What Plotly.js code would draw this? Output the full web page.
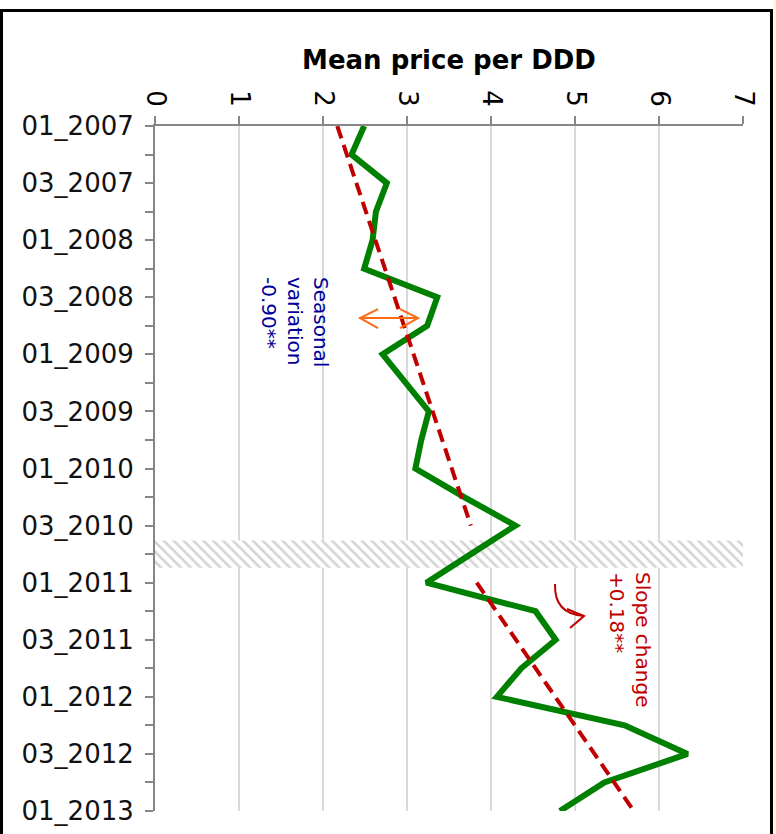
<!DOCTYPE html>
<html>
<head>
<meta charset="utf-8">
<script src="https://cdn.plot.ly/plotly-3.0.1.min.js"></script>
<style>html,body{margin:0;padding:0;background:#fff;}#chart{width:776px;height:834px;}</style>
</head>
<body>
<div id="chart"></div>
<script>
// ---- data ----
const quarters = ['01_2007','02_2007','03_2007','04_2007','01_2008','02_2008','03_2008','04_2008',
  '01_2009','02_2009','03_2009','04_2009','01_2010','02_2010','03_2010','04_2010',
  '01_2011','02_2011','03_2011','04_2011','01_2012','02_2012','03_2012','04_2012','01_2013'];
const meanPrice = [2.49,2.34,2.76,2.63,2.59,2.49,3.36,3.24,2.71,2.98,3.26,3.17,3.10,3.68,4.29,3.76,
  3.23,4.53,4.77,4.36,4.07,5.59,6.34,5.35,4.82];
const trendPreQuarters = ['01_2007','03_2010'];
const trendPreValues = [2.17,3.76];
const trendPostQuarters = ['01_2011','01_2013'];
const trendPostValues = [3.83,5.70];
const interventionQuarter = ['04_2010'];
const interventionExtent = [7];
const tickLabels = quarters.map(q => (q.startsWith('01_') || q.startsWith('03_')) ? q : '');
const xTicks = [0,1,2,3,4,5,6,7];

// ---- pixel helpers for decorations ----
const L = 155, R = 743, T = 126, B = 811, W = R - L, H = B - T;
const px = x => (x - L) / W;
const py = y => (B - y) / H;
const P = (x, y) => px(x).toFixed(4) + ',' + py(y).toFixed(4);

const FONT = 'DejaVu Sans, Verdana, sans-serif';

const traces = [
  {
    type: 'bar', orientation: 'h', x: interventionExtent, y: interventionQuarter, width: 0.95,
    marker: {color: 'white', line: {width: 0},
      pattern: {shape: '\\', fgcolor: '#d2d2d2', bgcolor: 'white', size: 7, solidity: 0.35}},
    hoverinfo: 'skip', showlegend: false
  },
  {
    type: 'scatter', mode: 'lines', x: meanPrice, y: quarters,
    line: {color: '#008000', width: 6}, showlegend: false
  },
  {
    type: 'scatter', mode: 'lines', x: trendPreValues, y: trendPreQuarters,
    line: {color: '#C00000', width: 4, dash: '13px,7px'}, showlegend: false
  },
  {
    type: 'scatter', mode: 'lines', x: trendPostValues, y: trendPostQuarters,
    line: {color: '#C00000', width: 4, dash: '13px,7px'}, showlegend: false
  }
];

const layout = {
  width: 776, height: 834,
  margin: {l: L, r: 776 - R, t: T, b: 834 - B, pad: 0},
  paper_bgcolor: 'white', plot_bgcolor: 'white',
  font: {family: FONT, color: '#000'},
  barmode: 'overlay',
  xaxis: {
    side: 'top', range: [0, 7], tickvals: xTicks, tickangle: 90,
    ticks: 'outside', ticklen: 8, tickwidth: 2, tickcolor: '#868686',
    showline: true, linecolor: '#868686', linewidth: 2,
    showgrid: true, gridcolor: '#d9d9d9', gridwidth: 1.5, zeroline: false,
    tickfont: {family: FONT, size: 26, color: '#000'},
    title: {text: '<b>Mean price per DDD</b>', font: {family: FONT, size: 26, color: '#000'}, standoff: 13},
    fixedrange: true
  },
  yaxis: {
    type: 'category', categoryorder: 'array', categoryarray: quarters,
    range: [24, 0], tickvals: quarters, ticktext: tickLabels,
    ticks: 'outside', ticklen: 8, tickwidth: 2, tickcolor: '#868686',
    showline: true, linecolor: '#868686', linewidth: 2,
    showgrid: false, zeroline: false,
    tickfont: {family: FONT, size: 26, color: '#111'},
    ticklabelstandoff: 6,
    fixedrange: true
  },
  shapes: [
    // outer frame
    {type: 'rect', xref: 'paper', yref: 'paper', x0: px(1.5), x1: px(771.5), y0: py(845), y1: py(10.5),
      line: {color: '#000', width: 3}, fillcolor: 'rgba(0,0,0,0)', layer: 'above'},
    {type: 'rect', xref: 'paper', yref: 'paper', x0: px(773.5), x1: px(777), y0: py(845), y1: py(0),
      line: {width: 0}, fillcolor: '#FFF3D9', layer: 'above'},
    // seasonal variation double arrow
    {type: 'path', xref: 'paper', yref: 'paper',
      path: 'M' + P(360, 318) + 'L' + P(418, 318), line: {color: '#FF6A13', width: 2}},
    {type: 'path', xref: 'paper', yref: 'paper',
      path: 'M' + P(378, 309) + 'L' + P(360, 318) + 'L' + P(378, 328), line: {color: '#FF6A13', width: 2}},
    {type: 'path', xref: 'paper', yref: 'paper',
      path: 'M' + P(400, 309) + 'L' + P(418, 318) + 'L' + P(400, 328), line: {color: '#FF6A13', width: 2}},
    // slope change curved arrow
    {type: 'path', xref: 'paper', yref: 'paper',
      path: 'M' + P(555, 584) + 'Q' + P(554, 614) + ' ' + P(584, 616), line: {color: '#C00000', width: 2}},
    {type: 'path', xref: 'paper', yref: 'paper',
      path: 'M' + P(567, 609) + 'L' + P(584, 616) + 'L' + P(570, 628), line: {color: '#C00000', width: 2}}
  ],
  annotations: [
    {xref: 'paper', yref: 'paper', x: px(295), y: py(322), xanchor: 'center', yanchor: 'middle',
      text: 'Seasonal<br>variation<br>-0.90**', textangle: 90, align: 'left', showarrow: false,
      font: {family: FONT, size: 20, color: '#000099'}},
    {xref: 'paper', yref: 'paper', x: px(630), y: py(639), xanchor: 'center', yanchor: 'middle',
      text: 'Slope change<br>+0.18**', textangle: 90, align: 'left', showarrow: false,
      font: {family: FONT, size: 20, color: '#C00000'}}
  ]
};

Plotly.newPlot('chart', traces, layout, {staticPlot: true, displayModeBar: false});
</script>
</body>
</html>
